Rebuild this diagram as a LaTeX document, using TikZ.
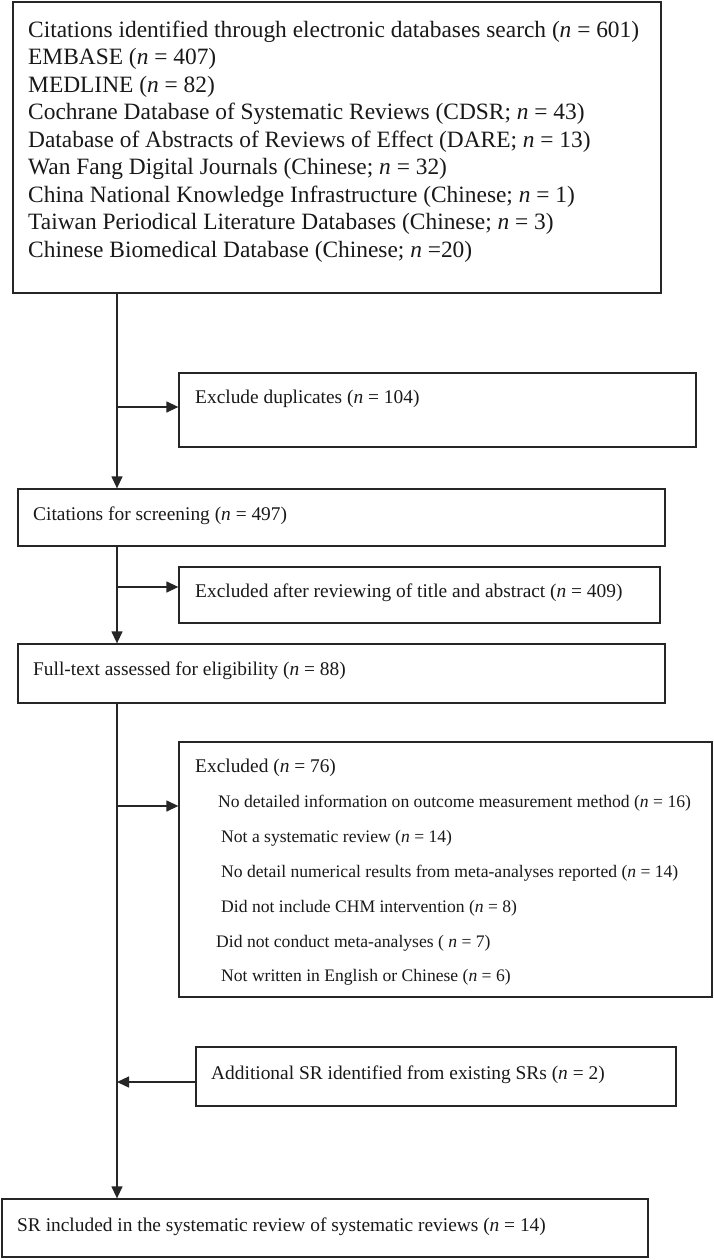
\documentclass[tikz,border=0pt]{standalone}
\usepackage{fontspec}
\setmainfont{Liberation Serif}
\usetikzlibrary{arrows.meta}
\begin{document}
\begin{tikzpicture}[x=1pt,y=-1pt,
  box/.style={draw=black!85, line width=1.3pt, inner sep=0pt, minimum width=#1},
  boxh/.style={minimum height=#1},
  lbl/.style={anchor=west, inner sep=0pt, font=\fontsize{19.4}{23}\selectfont, text=black!90},
  sub/.style={anchor=west, inner sep=0pt, font=\fontsize{17.6}{21}\selectfont, text=black!90},
  big/.style={anchor=north west, inner sep=0pt, align=left, font=\fontsize{23.4}{27.5}\selectfont, text=black!90},
  conn/.style={draw=black!85, line width=1.3pt},
  arr/.style={conn, -{Triangle[length=12pt,width=11pt]}}]
\useasboundingbox (0,0) rectangle (713,1260);
\fill[white] (0,0) rectangle (713,1260);
% boxes
\node[box=648pt, boxh=291pt] (b1) at (337,147.5) {};
\node[box=517pt, boxh=74pt] (b2) at (437.5,410) {};
\node[box=647pt, boxh=57pt] (b3) at (341.5,517.5) {};
\node[box=481pt, boxh=56pt] (b4) at (419.5,595) {};
\node[box=647pt, boxh=59pt] (b5) at (341.5,673.5) {};
\node[box=533pt, boxh=255pt] (b6) at (445.5,869.5) {};
\node[box=480pt, boxh=59pt] (b7) at (436,1076.5) {};
\node[box=646pt, boxh=58pt] (b8) at (325,1228) {};
% texts
\node[big] (t1) at (28,20.5) {Citations identified through electronic databases search (\textit{n} = 601)\\
EMBASE (\textit{n} = 407)\\
MEDLINE (\textit{n} = 82)\\
Cochrane Database of Systematic Reviews (CDSR; \textit{n} = 43)\\
Database of Abstracts of Reviews of Effect (DARE; \textit{n} = 13)\\
Wan Fang Digital Journals (Chinese; \textit{n} = 32)\\
China National Knowledge Infrastructure (Chinese; \textit{n} = 1)\\
Taiwan Periodical Literature Databases (Chinese; \textit{n} = 3)\\
Chinese Biomedical Database (Chinese; \textit{n} =20)};
\node[lbl] (t2) at (195,399) {Exclude duplicates (\textit{n} = 104)};
\node[lbl] (t3) at (33,516) {Citations for screening (\textit{n} = 497)};
\node[lbl] (t4) at (195,593) {Excluded after reviewing of title and abstract (\textit{n} = 409)};
\node[lbl] (t5) at (33,671) {Full-text assessed for eligibility (\textit{n} = 88)};
\node[lbl] (t6) at (195,768) {Excluded (\textit{n} = 76)};
\node[sub] (t6a) at (218,803) {No detailed information on outcome measurement method (\textit{n} = 16)};
\node[sub] (t6b) at (221,838) {Not a systematic review (\textit{n} = 14)};
\node[sub] (t6c) at (221,873) {No detail numerical results from meta-analyses reported (\textit{n} = 14)};
\node[sub] (t6d) at (221,908) {Did not include CHM intervention (\textit{n} = 8)};
\node[sub] (t6e) at (216,943) {Did not conduct meta-analyses ( \textit{n} = 7)};
\node[sub] (t6f) at (221,977) {Not written in English or Chinese (\textit{n} = 6)};
\node[lbl] (t7) at (211,1075) {Additional SR identified from existing SRs (\textit{n} = 2)};
\node[lbl] (t8) at (17,1227) {SR included in the systematic review of systematic reviews (\textit{n} = 14)};
% connectors
\coordinate (mx) at (117,0);
\coordinate (j2) at (117,407);
\coordinate (j4) at (117,587);
\coordinate (j6) at (117,806);
\coordinate (j7) at (117,1082);
\draw[arr] (b1.south -| mx) -- (b3.north -| mx);
\draw[arr] (j2) -- (j2 -| b2.west);
\draw[arr] (b3.south -| mx) -- (b5.north -| mx);
\draw[arr] (j4) -- (j4 -| b4.west);
\draw[arr] (b5.south -| mx) -- (b8.north -| mx);
\draw[arr] (j6) -- (j6 -| b6.west);
\draw[arr] (j7 -| b7.west) -- (j7);
\end{tikzpicture}
\end{document}
